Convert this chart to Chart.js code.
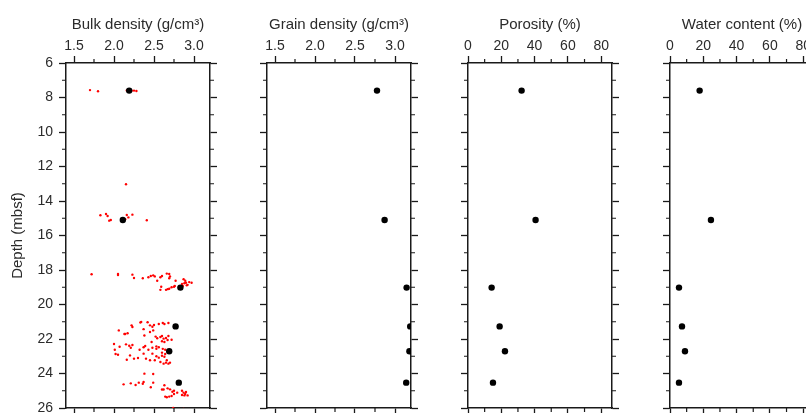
<!DOCTYPE html>
<html lang="en">
<head>
<meta charset="UTF-8">
<title>Physical properties</title>
<script src="https://cdn.jsdelivr.net/npm/chart.js"></script>
<style>
  html, body { margin: 0; padding: 0; background: #fff; overflow: hidden; width: 806px; height: 413px; }
  canvas { position: absolute; top: 0; }
</style>
</head>
<body>
<canvas id="bulk" width="220" height="440" style="left:0px"></canvas>
<canvas id="grain" width="164" height="440" style="left:257px"></canvas>
<canvas id="poro" width="164" height="440" style="left:458px"></canvas>
<canvas id="water" width="164" height="440" style="left:660px"></canvas>
<script>
// discrete samples (black dots)
var madDepth   = [7.6, 15.1, 19.02, 21.27, 22.71, 24.53];
var bulkMAD    = [2.19, 2.11, 2.83, 2.77, 2.69, 2.81];
var grainMAD   = [2.775, 2.87, 3.145, 3.19, 3.18, 3.14];
var porosity   = [32.2, 40.6, 14.2, 19.0, 22.2, 15.0];
var waterCont  = [17.8, 24.6, 5.4, 7.2, 9.0, 5.4];

// whole-round bulk density (red points)
var graDepth = [
  7.57, 7.64, 7.59, 7.60, 7.61, 7.60, 7.62,
  13.03, 14.83, 14.75, 14.87, 15.14, 15.10, 14.81, 14.95, 14.79, 15.12, 15.06,
  18.25, 18.23, 18.29, 18.27, 18.46, 18.48, 18.42, 18.35, 18.31, 18.37, 18.62, 18.42,
  18.35, 18.21, 18.23, 18.38, 18.97, 19.15, 19.15, 19.11, 19.09, 19.00, 18.97, 18.62,
  18.93, 18.54, 18.81, 18.77, 18.74, 18.86, 18.70, 18.62, 18.89, 18.74, 18.93, 18.48,
  21.50, 21.71, 21.67, 21.21, 21.30, 21.01, 21.03, 21.43, 21.80, 21.21, 21.29, 21.19,
  21.50, 21.13, 21.07, 21.13, 21.07, 21.59, 21.86, 21.96, 21.88, 21.83, 21.98, 21.94,
  21.83, 22.04, 22.06, 22.17, 22.13, 22.29, 22.45, 22.31, 22.39, 22.35, 22.51, 22.62,
  22.87, 22.91, 22.95, 23.20, 23.14, 23.10, 22.62, 22.48, 22.41, 22.85, 22.62, 22.17,
  22.51, 22.85, 22.43, 22.57, 22.48, 22.57, 22.62, 22.79, 23.00, 23.08, 22.97, 23.03,
  22.87, 23.14, 23.23, 23.23, 23.33, 23.43, 23.37, 23.43, 23.37, 23.23, 21.04, 21.71,
  24.01, 24.03, 24.63, 24.57, 24.67, 24.53, 24.59, 24.49, 24.80, 24.53, 24.68, 24.93,
  24.93, 24.86, 24.92, 25.06, 25.00, 25.11, 25.19, 25.34, 25.38, 25.34, 25.30, 25.00,
  25.11, 25.19, 25.07, 25.27, 25.27, 25.25, 26.00, 26.05
];
var graDensity = [
  1.70, 1.80, 2.16, 2.18, 2.22, 2.25, 2.28,
  2.15, 1.83, 1.90, 1.92, 1.94, 1.96, 2.16, 2.18, 2.23, 2.41, 2.14,
  1.72, 2.05, 2.05, 2.23, 2.25, 2.36, 2.43, 2.46, 2.49, 2.51, 2.54, 2.58,
  2.60, 2.66, 2.69, 2.70, 2.59, 2.58, 2.65, 2.67, 2.69, 2.72, 2.75, 2.77,
  2.76, 2.87, 2.85, 2.88, 2.90, 2.92, 2.94, 2.89, 2.91, 2.97, 2.86, 2.69,
  2.06, 2.14, 2.17, 2.22, 2.23, 2.34, 2.42, 2.37, 2.38, 2.45, 2.48, 2.50,
  2.49, 2.56, 2.61, 2.63, 2.68, 2.45, 2.52, 2.54, 2.58, 2.60, 2.62, 2.65,
  2.68, 2.72, 2.67, 2.63, 2.60, 2.00, 2.07, 2.15, 2.19, 2.23, 2.21, 2.01,
  2.02, 2.05, 2.20, 2.16, 2.25, 2.30, 2.32, 2.37, 2.39, 2.37, 2.43, 2.47,
  2.48, 2.48, 2.53, 2.53, 2.56, 2.61, 2.64, 2.60, 2.53, 2.56, 2.60, 2.63,
  2.64, 2.40, 2.45, 2.51, 2.58, 2.62, 2.65, 2.68, 2.70, 2.66, 2.33, 2.13,
  2.38, 2.49, 2.12, 2.21, 2.27, 2.31, 2.36, 2.37, 2.46, 2.49, 2.63, 2.60,
  2.62, 2.67, 2.70, 2.73, 2.75, 2.79, 2.75, 2.64, 2.66, 2.69, 2.72, 2.85,
  2.87, 2.89, 2.90, 2.92, 2.88, 2.85, 2.74, 2.87
];

var depthTicks = [6, 26, 2, 1];   // min, max, major step, minor step
var textColor = '#2b2b2b';
var lineColor = '#1a1a1a';
var fontFamily = '"Liberation Sans", Arial, sans-serif';

function pts(xs, ys) {
  return xs.map((v, i) => ({ x: v, y: ys[i] }));
}

// short ticks between the major ones
var minorTicks = {
  id: 'minorTicks',
  afterDraw(chart, args, opts) {
    var ctx = chart.ctx, a = chart.chartArea;
    ctx.save();
    ctx.strokeStyle = lineColor;
    ctx.lineWidth = 1.2;
    ctx.beginPath();
    ['x', 'x2', 'y', 'y2'].forEach(id => {
      var s = chart.scales[id];
      var step = id[0] === 'x' ? opts.xMinor : depthTicks[3];
      for (var k = Math.ceil(s.min / step - 1e-9); k <= Math.floor(s.max / step + 1e-9); k++) {
        if (k % 2 === 0) continue;
        var p = s.getPixelForValue(k * step);
        if (id === 'x')  { ctx.moveTo(p, a.top);    ctx.lineTo(p, a.top - 4); }
        if (id === 'x2') { ctx.moveTo(p, a.bottom); ctx.lineTo(p, a.bottom + 4); }
        if (id === 'y')  { ctx.moveTo(a.left, p);   ctx.lineTo(a.left - 4, p); }
        if (id === 'y2') { ctx.moveTo(a.right, p);  ctx.lineTo(a.right + 4, p); }
      }
    });
    ctx.stroke();
    ctx.restore();
  }
};

function fixBox(size, prop) {
  return s => {
    s[prop] = size;
    s.paddingLeft = s.paddingRight = s.paddingTop = s.paddingBottom = 0;
  };
}

function makePanel(id, xMin, xMax, xStep, title, datasets, first) {
  var grid = { drawOnChartArea: false, tickLength: 7, tickColor: lineColor, tickWidth: 1.3 };
  var border = { color: lineColor, width: 1.5 };
  var xTicks = { stepSize: xStep, includeBounds: false, padding: 1, color: textColor, font: { size: 14 } };
  var yTicks = { stepSize: depthTicks[2], color: textColor, font: { size: 14 }, padding: 6, display: first };
  return new Chart(document.getElementById(id), {
    type: 'scatter',
    data: { datasets: datasets },
    options: {
      responsive: false,
      animation: false,
      layout: { padding: 0 },
      plugins: { legend: { display: false }, tooltip: { enabled: false }, minorTicks: { xMinor: xStep / 2 } },
      scales: {
        x: { type: 'linear', position: 'top', min: xMin, max: xMax, ticks: xTicks, grid: grid, border: border,
             title: { display: true, text: title, color: textColor, font: { size: 15 }, padding: { top: 16, bottom: 0 } },
             afterFit: fixBox(63, 'height') },
        x2: { type: 'linear', position: 'bottom', min: xMin, max: xMax,
              ticks: Object.assign({}, xTicks, { display: false }), grid: grid, border: border,
              afterFit: fixBox(32, 'height') },
        y: { type: 'linear', position: 'left', min: depthTicks[0], max: depthTicks[1], reverse: true,
             ticks: yTicks, grid: grid, border: border,
             title: { display: first, text: 'Depth (mbsf)', color: textColor, font: { size: 15 }, padding: { top: 9, bottom: 0 } },
             afterFit: fixBox(first ? 66 : 10, 'width') },
        y2: { type: 'linear', position: 'right', min: depthTicks[0], max: depthTicks[1], reverse: true,
              ticks: Object.assign({}, yTicks, { display: false }), grid: grid, border: border,
              afterFit: fixBox(10, 'width') }
      }
    },
    plugins: [minorTicks]
  });
}

function blackDots(vals) {
  return { data: pts(vals, madDepth), xAxisID: 'x', yAxisID: 'y', backgroundColor: '#000', borderWidth: 0, pointRadius: 3.2 };
}

Chart.defaults.font.family = fontFamily;

makePanel('bulk', 1.4, 3.2, 0.5, 'Bulk density (g/cm³)', [
  blackDots(bulkMAD),
  { data: pts(graDensity, graDepth), xAxisID: 'x', yAxisID: 'y', backgroundColor: '#ff0000', borderWidth: 0, pointRadius: 1.2 }
], true);
makePanel('grain', 1.4, 3.2, 0.5, 'Grain density (g/cm³)', [blackDots(grainMAD)], false);
makePanel('poro', 0, 86.5, 20, 'Porosity (%)', [blackDots(porosity)], false);
makePanel('water', 0, 86.5, 20, 'Water content (%)', [blackDots(waterCont)], false);
</script>
</body>
</html>
